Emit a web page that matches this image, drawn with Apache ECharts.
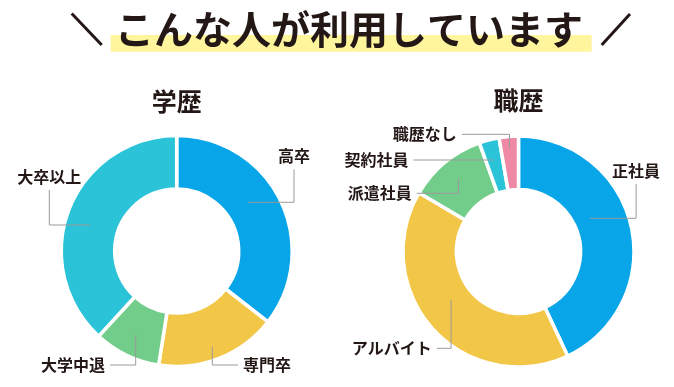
<!DOCTYPE html>
<html>
<head>
<meta charset="utf-8">
<script src="https://cdn.jsdelivr.net/npm/echarts@6/dist/echarts.min.js"></script>
<style>
html,body{margin:0;padding:0;background:#fff;}
#c{width:674px;height:387px;}
</style>
</head>
<body>
<div id="c"></div>
<script>
// ---- data ----
const mainTitle = 'こんな人が利用しています';
const eduTitle = '学歴';
const jobTitle = '職歴';
const eduCategories = ['高卒', '専門卒', '大学中退', '大卒以上'];
const eduValues = [35.5, 17, 9.3, 38.2];
const jobCategories = ['正社員', 'アルバイト', '派遣社員', '契約社員', '職歴なし'];
const jobValues = [43, 40.5, 11, 2.8, 2.7];

// ---- styles / layout ----
const eduColors = ['#08a5e8', '#f2c646', '#73cd8a', '#2bc3d8'];
const jobColors = ['#08a5e8', '#f2c646', '#73cd8a', '#2bc3d8', '#ee88a4'];
const FONT = '"Noto Sans CJK JP", "Noto Sans", sans-serif';
const TEXT = '#231815';
const GUIDE = '#9a9a9a';
const eduCenter = [176.7, 251];
const jobCenter = [518.5, 251.5];

// label guide polylines, offsets relative to pie center
const eduGuides = [
  {pts: [[71.6, -48.7], [117.3, -48.7], [117.3, -81.7]], side: 'top'},
  {pts: [[35.6, 95.7], [35.6, 114], [61.3, 114]], side: 'right'},
  {pts: [[-41, 84], [-41, 114], [-66.7, 114]], side: 'left'},
  {pts: [[-86.7, -26], [-127.4, -26], [-127.4, -61]], side: 'top'}
];
const jobGuides = [
  {pts: [[71.6, -33.2], [117.6, -33.2], [117.6, -67.5]], side: 'top'},
  {pts: [[-67.4, 48.5], [-67.4, 96.8], [-81.7, 96.8]], side: 'left'},
  {pts: [[-60, -73.2], [-60, -58.2], [-101.7, -58.2]], side: 'left'},
  {pts: [[-25, -91.5], [-105, -91.5]], side: 'left'},
  {pts: [[-9, -103.2], [-9, -117.2], [-56.7, -117.2]], side: 'left'}
];

function absPts(center, g) {
  return g.pts.map(p => [center[0] + p[0], center[1] + p[1]]);
}

function makeLayout(center, guides) {
  return function (params) {
    const g = guides[params.dataIndex];
    const pts = absPts(center, g);
    const end = pts[pts.length - 1];
    if (g.side === 'top') {
      return {x: end[0], y: end[1] - 5, align: 'center', verticalAlign: 'bottom'};
    } else if (g.side === 'left') {
      return {x: end[0] - 5, y: end[1], align: 'right', verticalAlign: 'middle'};
    }
    return {x: end[0] + 5, y: end[1], align: 'left', verticalAlign: 'middle'};
  };
}

function pieSeries(name, cats, vals, cols, center, guides) {
  return {
    type: 'pie',
    name: name,
    center: center,
    radius: [62, 115.5],
    startAngle: 90,
    clockwise: true,
    avoidLabelOverlap: false,
    silent: true,
    itemStyle: {borderColor: '#ffffff', borderWidth: 3.5},
    label: {
      show: true,
      position: 'outside',
      formatter: '{b}',
      fontSize: 16,
      fontWeight: 'bold',
      color: TEXT,
      fontFamily: FONT
    },
    labelLine: {show: false},
    labelLayout: makeLayout(center, guides),
    data: cats.map((c, i) => ({name: c, value: vals[i], itemStyle: {color: cols[i]}}))
  };
}

function guideGraphics(center, guides) {
  return guides.map(g => ({
    type: 'polyline',
    z: 100,
    silent: true,
    shape: {points: absPts(center, g)},
    style: {stroke: GUIDE, lineWidth: 1, fill: null}
  }));
}

const chart = echarts.init(document.getElementById('c'), null, {renderer: 'canvas'});
chart.setOption({
  animation: false,
  graphic: [
    {type: 'rect', shape: {x: 110.7, y: 35, width: 481, height: 16.7}, style: {fill: '#fff59d'}, z: 0},
    {type: 'line', shape: {x1: 71.7, y1: 13.5, x2: 101.7, y2: 45}, style: {stroke: TEXT, lineWidth: 3}},
    {type: 'line', shape: {x1: 601.7, y1: 45, x2: 630, y2: 14}, style: {stroke: TEXT, lineWidth: 3}},
    {type: 'text', x: 349, y: 29, z: 10, style: {text: mainTitle, fill: TEXT, font: 'bold 39px ' + FONT, textAlign: 'center', textVerticalAlign: 'middle'}},
    {type: 'text', x: eduCenter[0], y: 101, z: 10, style: {text: eduTitle, fill: TEXT, font: 'bold 25px ' + FONT, textAlign: 'center', textVerticalAlign: 'middle'}},
    {type: 'text', x: jobCenter[0], y: 100.5, z: 10, style: {text: jobTitle, fill: TEXT, font: 'bold 25px ' + FONT, textAlign: 'center', textVerticalAlign: 'middle'}}
  ].concat(guideGraphics(eduCenter, eduGuides), guideGraphics(jobCenter, jobGuides)),
  series: [
    pieSeries(eduTitle, eduCategories, eduValues, eduColors, eduCenter, eduGuides),
    pieSeries(jobTitle, jobCategories, jobValues, jobColors, jobCenter, jobGuides)
  ]
});
</script>
</body>
</html>
